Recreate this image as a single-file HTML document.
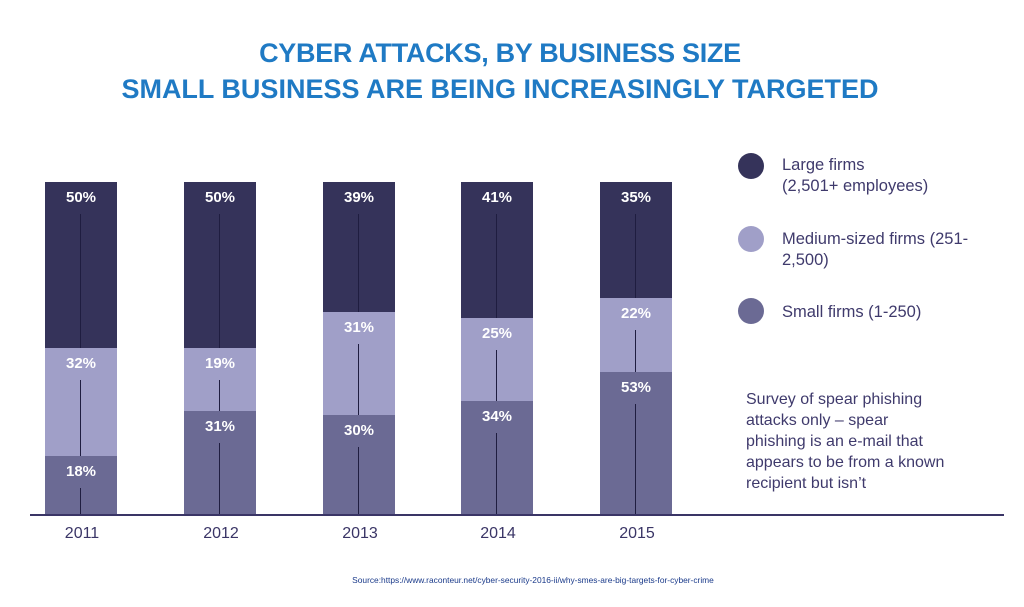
<!DOCTYPE html>
<html><head><meta charset="utf-8"><style>
body{margin:0;width:1024px;height:607px;background:#fff;position:relative;overflow:hidden;font-family:"Liberation Sans",sans-serif}
.t{position:absolute;left:0;width:1000px;text-align:center;color:#1f7ac4;font-weight:bold;font-size:27px;letter-spacing:-0.3px}
.seg{position:absolute;width:72px}
.ln{position:absolute;width:1px;background:#1f1d40;left:35px}
.lb{position:absolute;width:72px;text-align:center;color:#fff;font-weight:bold;font-size:15px}
.yr{position:absolute;width:72px;text-align:center;color:#3a3566;font-size:16px;top:525px}
.leg{position:absolute;color:#3f3a6c;font-size:16.5px;line-height:21px}
.dot{position:absolute;width:26px;height:26px;border-radius:50%}
</style></head><body>
<div class="t" style="top:38px">CYBER ATTACKS, BY BUSINESS SIZE</div>
<div class="t" style="top:74px;letter-spacing:0px">SMALL BUSINESS ARE BEING INCREASINGLY TARGETED</div>
<div id="bars"></div>
<div style="position:absolute;left:30px;top:514px;width:974px;height:2px;background:#3a3566"></div>
<div class="dot" style="left:738px;top:153px;background:#35335a"></div>
<div class="leg" style="left:782px;top:155px">Large firms<br>(2,501+ employees)</div>
<div class="dot" style="left:738px;top:226px;background:#a09fc8"></div>
<div class="leg" style="left:782px;top:229px">Medium-sized firms (251-<br>2,500)</div>
<div class="dot" style="left:738px;top:298px;background:#6b6a94"></div>
<div class="leg" style="left:782px;top:302px">Small firms (1-250)</div>
<div class="leg" style="left:746px;top:389px;font-size:16px">Survey of spear phishing<br>attacks only – spear<br>phishing is an e-mail that<br>appears to be from a known<br>recipient but isn’t</div>
<div style="position:absolute;left:0;width:1066px;top:575px;text-align:center;font-size:8.4px;color:#1a3a8a">Source:https://www.raconteur.net/cyber-security-2016-ii/why-smes-are-big-targets-for-cyber-crime</div>
<script>
var d=[[45,"2011",348,456,"50%","32%","18%"],[184,"2012",348,411,"50%","19%","31%"],[323,"2013",312,415,"39%","31%","30%"],[461,"2014",318,401,"41%","25%","34%"],[600,"2015",298,372,"35%","22%","53%"]];
var h="";
d.forEach(function(b){var x=b[0],top=182,bot=515;
var s=[[top,b[2],"#35335a",b[4]],[b[2],b[3],"#a09fc8",b[5]],[b[3],bot,"#6b6a94",b[6]]];
s.forEach(function(q){h+='<div class="seg" style="left:'+x+'px;top:'+q[0]+'px;height:'+(q[1]-q[0])+'px;background:'+q[2]+'"><div class="ln" style="top:32px;bottom:0"></div></div>';
h+='<div class="lb" style="left:'+x+'px;top:'+(q[0]+7)+'px">'+q[3]+'</div>';});
h+='<div class="yr" style="left:'+(x+1)+'px">'+b[1]+'</div>';});
document.getElementById("bars").innerHTML=h;
</script>
</body></html>
